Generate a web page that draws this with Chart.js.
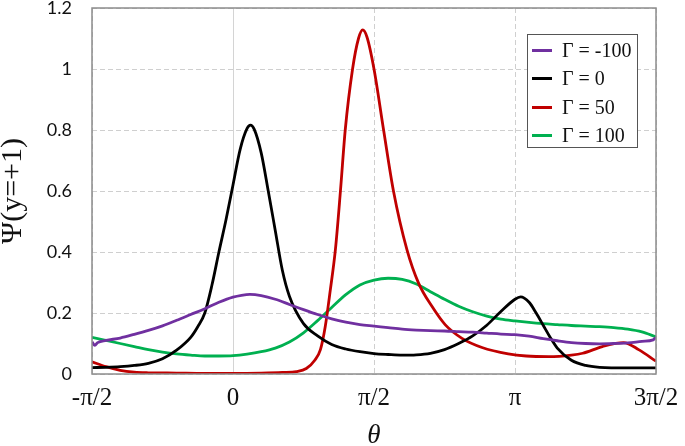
<!DOCTYPE html>
<html>
<head>
<meta charset="utf-8">
<script src="https://cdn.jsdelivr.net/npm/chart.js@4.4.1/dist/chart.umd.min.js"></script>
<style>
  html, body { margin: 0; padding: 0; background: #fff; }
  #wrap { position: relative; width: 685px; height: 446px; }
  #legend {
    position: absolute; left: 527px; top: 34px; width: 109px; height: 112px;
    border: 1px solid #555; background: #fff; box-sizing: content-box;
    font-family: "Liberation Serif", serif; font-size: 20px; color: #111;
  }
  .leg-item { position: absolute; left: 0; height: 28px; line-height: 28px; white-space: nowrap; }
  .leg-swatch { position: absolute; left: 4px; top: 13px; width: 20px; height: 3px; }
  .leg-text { position: absolute; left: 34px; top: 0; }
</style>
</head>
<body>
<div id="wrap">
  <canvas id="chart" width="685" height="446"></canvas>
  <div id="legend"></div>
</div>
<script>
// x values are theta / pi
const xTickValues = [-0.5, 0, 0.5, 1, 1.5];
const xTickLabels = ['-\u03c0/2', '0', '\u03c0/2', '\u03c0', '3\u03c0/2'];
const seriesNames = ['\u0393 = -100', '\u0393 = 0', '\u0393 = 50', '\u0393 = 100'];
const seriesColors = ['#7030a0', '#000000', '#c00000', '#00b050'];

const thetaM100 = [-0.5, -0.49, -0.48, -0.45, -0.4, -0.35, -0.3, -0.25, -0.2, -0.15, -0.1, -0.05, 0, 0.03, 0.06, 0.1, 0.15, 0.2, 0.25, 0.3, 0.35, 0.4, 0.45, 0.5, 0.55, 0.6, 0.65, 0.7, 0.75, 0.8, 0.85, 0.9, 0.95, 1.0, 1.05, 1.1, 1.15, 1.2, 1.25, 1.3, 1.35, 1.4, 1.45, 1.49, 1.5];
const psiM100 = [0.105, 0.094, 0.103, 0.11, 0.118, 0.13, 0.143, 0.158, 0.176, 0.195, 0.214, 0.235, 0.252, 0.258, 0.261, 0.257, 0.245, 0.228, 0.211, 0.195, 0.181, 0.17, 0.162, 0.157, 0.152, 0.147, 0.144, 0.142, 0.141, 0.139, 0.137, 0.134, 0.131, 0.129, 0.124, 0.116, 0.109, 0.103, 0.1, 0.099, 0.1, 0.102, 0.107, 0.112, 0.12];

const theta0 = [-0.5, -0.45, -0.4, -0.35, -0.3, -0.25, -0.2, -0.15, -0.125, -0.1, -0.075, -0.05, -0.025, 0, 0.025, 0.05, 0.062, 0.075, 0.1, 0.125, 0.15, 0.175, 0.2, 0.25, 0.3, 0.35, 0.4, 0.45, 0.5, 0.55, 0.6, 0.65, 0.7, 0.75, 0.8, 0.85, 0.9, 0.95, 1.0, 1.02, 1.05, 1.075, 1.1, 1.125, 1.15, 1.2, 1.25, 1.3, 1.4, 1.5];
const psi0 = [0.021, 0.022, 0.024, 0.028, 0.035, 0.05, 0.078, 0.12, 0.155, 0.2, 0.29, 0.4, 0.505, 0.62, 0.735, 0.805, 0.816, 0.803, 0.725, 0.6, 0.47, 0.34, 0.255, 0.165, 0.125, 0.097, 0.082, 0.073, 0.067, 0.064, 0.062, 0.063, 0.068, 0.08, 0.1, 0.125, 0.16, 0.205, 0.245, 0.253, 0.235, 0.2, 0.16, 0.12, 0.085, 0.045, 0.028, 0.022, 0.02, 0.02];

const theta50 = [-0.5, -0.45, -0.4, -0.35, -0.3, -0.2, -0.1, 0, 0.1, 0.175, 0.225, 0.26, 0.29, 0.31, 0.327, 0.345, 0.363, 0.381, 0.398, 0.424, 0.445, 0.46, 0.475, 0.5, 0.534, 0.569, 0.617, 0.658, 0.706, 0.753, 0.812, 0.883, 0.976, 1.04, 1.12, 1.2, 1.24, 1.31, 1.385, 1.44, 1.5];
const psi50 = [0.04, 0.024, 0.012, 0.006, 0.004, 0.003, 0.002, 0.002, 0.003, 0.005, 0.008, 0.018, 0.045, 0.08, 0.155, 0.275, 0.407, 0.6, 0.8, 1.0, 1.1, 1.128, 1.105, 1.0, 0.8, 0.6, 0.407, 0.298, 0.221, 0.161, 0.117, 0.087, 0.066, 0.059, 0.057, 0.062, 0.068, 0.09, 0.103, 0.079, 0.042];

const theta100 = [-0.5, -0.45, -0.4, -0.35, -0.3, -0.25, -0.2, -0.15, -0.1, -0.05, 0, 0.05, 0.1, 0.15, 0.2, 0.25, 0.3, 0.35, 0.4, 0.45, 0.5, 0.55, 0.6, 0.65, 0.7, 0.75, 0.8, 0.85, 0.9, 0.95, 1.0, 1.05, 1.1, 1.15, 1.2, 1.25, 1.3, 1.35, 1.4, 1.45, 1.5];
const psi100 = [0.12, 0.11, 0.1, 0.09, 0.08, 0.072, 0.066, 0.062, 0.059, 0.059, 0.06, 0.065, 0.073, 0.085, 0.105, 0.135, 0.175, 0.218, 0.26, 0.292, 0.308, 0.314, 0.31, 0.295, 0.27, 0.245, 0.222, 0.204, 0.19, 0.18, 0.174, 0.169, 0.165, 0.162, 0.159, 0.157, 0.155, 0.152, 0.147, 0.138, 0.122];

const seriesX = [thetaM100, theta0, theta50, theta100];
const seriesY = [psiM100, psi0, psi50, psi100];

const datasets = seriesNames.map((name, i) => ({
  label: name,
  data: seriesX[i].map((x, j) => ({ x: x, y: seriesY[i][j] })),
  borderColor: seriesColors[i],
  borderWidth: 2.8,
  pointRadius: 0,
  fill: false,
  cubicInterpolationMode: 'monotone'
}));

// plot frame drawn around the chart area
const framePlugin = {
  id: 'frame',
  afterDraw(chart) {
    const a = chart.chartArea, ctx = chart.ctx;
    ctx.save();
    ctx.strokeStyle = '#8c8c8c';
    ctx.lineWidth = 1.5;
    ctx.strokeRect(a.left, a.top, a.right - a.left, a.bottom - a.top);
    ctx.restore();
  }
};

new Chart(document.getElementById('chart'), {
  type: 'line',
  data: { datasets: datasets },
  options: {
    responsive: false,
    animation: false,
    layout: { padding: { left: 0, right: 29, top: 8, bottom: 0 } },
    plugins: { legend: { display: false }, tooltip: { enabled: false } },
    scales: {
      x: {
        type: 'linear', min: -0.5, max: 1.5,
        afterBuildTicks: s => { s.ticks = xTickValues.map(v => ({ value: v })); },
        afterFit: s => { s.height = 72; s.paddingLeft = 0; s.paddingRight = 0; },
        ticks: {
          callback: v => xTickLabels[xTickValues.indexOf(v)],
          color: '#111', padding: 9, maxRotation: 0, autoSkip: false,
          font: { family: '"Liberation Serif", serif', size: 25 }
        },
        grid: { drawTicks: false, color: ctx => ctx.tick && ctx.tick.value === 0 ? '#d4d4d4' : '#cfcfcf', lineWidth: 1 },
        border: { display: false, dash: ctx => ctx.tick && ctx.tick.value === 0 ? [] : [5, 3] },
        title: {
          display: true, text: '\u03b8', color: '#111',
          font: { family: '"Liberation Serif", serif', size: 27, style: 'italic', lineHeight: 1 },
          padding: { top: 0, bottom: -3 }
        }
      },
      y: {
        min: 0, max: 1.2,
        afterFit: s => { s.width = 92; s.paddingTop = 0; s.paddingBottom = 0; },
        ticks: {
          stepSize: 0.2, color: '#111', padding: 20,
          callback: v => String(+v.toFixed(1)),
          font: { family: 'Lato, sans-serif', size: 18, lineHeight: 1 }
        },
        grid: { drawTicks: false, color: '#cfcfcf', lineWidth: 1 },
        border: { display: false, dash: [5, 3] },
        title: {
          display: true, text: '\u03a8(y=+1)', color: '#111',
          font: { family: '"Liberation Serif", serif', size: 30, lineHeight: 0.85 },
          padding: { top: 0, bottom: 0 }
        }
      }
    }
  },
  plugins: [framePlugin]
});

// legend box with the series names
const legend = document.getElementById('legend');
seriesNames.forEach((name, i) => {
  const item = document.createElement('div');
  item.className = 'leg-item';
  item.style.top = (1 + i * 28.3) + 'px';
  const sw = document.createElement('div');
  sw.className = 'leg-swatch';
  sw.style.background = seriesColors[i];
  const tx = document.createElement('div');
  tx.className = 'leg-text';
  tx.innerText = name;
  item.appendChild(sw);
  item.appendChild(tx);
  legend.appendChild(item);
});
</script>
</body>
</html>
